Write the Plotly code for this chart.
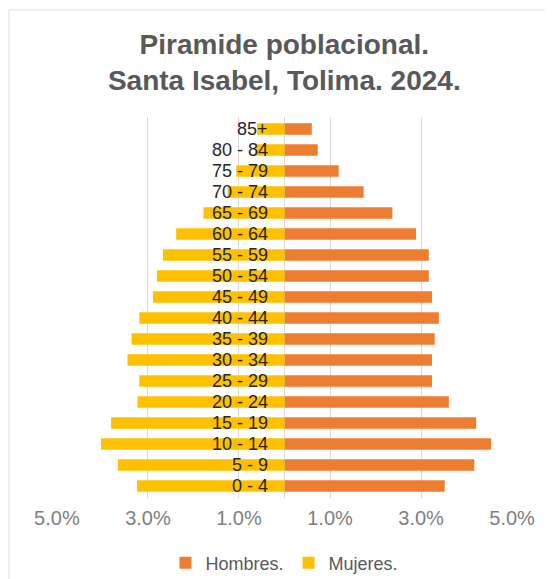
import plotly.graph_objects as go

age_groups = ["0 - 4", "5 - 9", "10 - 14", "15 - 19", "20 - 24", "25 - 29", "30 - 34",
              "35 - 39", "40 - 44", "45 - 49", "50 - 54", "55 - 59", "60 - 64",
              "65 - 69", "70 - 74", "75 - 79", "80 - 84", "85+"]
hombres = [3.52, 4.17, 4.54, 4.21, 3.61, 3.24, 3.24, 3.30, 3.39, 3.24, 3.17, 3.17,
           2.89, 2.37, 1.74, 1.19, 0.73, 0.60]
mujeres = [3.24, 3.66, 4.03, 3.81, 3.23, 3.19, 3.45, 3.36, 3.19, 2.89, 2.80, 2.67,
           2.38, 1.78, 1.25, 1.06, 0.62, 0.60]
tick_vals = [-5, -3, -1, 1, 3, 5]
tick_text = ["5.0%", "3.0%", "1.0%", "1.0%", "3.0%", "5.0%"]

FONT = "Liberation Sans, Arial, sans-serif"

fig = go.Figure()
fig.add_trace(go.Bar(
    y=age_groups, x=hombres, orientation="h", name="Hombres.",
    marker=dict(color="#ED7D31", line=dict(width=0)),
))
fig.add_trace(go.Bar(
    y=age_groups, x=[-v for v in mujeres], orientation="h", name="Mujeres.",
    marker=dict(color="#FFC000", line=dict(width=0)),
))

for g in age_groups:
    fig.add_annotation(x=0, y=g, xref="x", yref="y", text=g, showarrow=False,
                       xanchor="right", yanchor="middle", xshift=-15,
                       font=dict(family=FONT, size=18, color="#262626"))

fig.update_layout(
    width=545, height=571,
    margin=dict(l=48, r=40, t=109, b=81, autoexpand=False),
    paper_bgcolor="white", plot_bgcolor="white",
    barmode="relative", bargap=0.45,
    title=dict(text="<b>Piramide poblacional.<br>Santa Isabel, Tolima. 2024.</b>",
               x=0.507, xanchor="center", y=1 - 46 / 571, yanchor="top", yref="container",
               font=dict(family=FONT, size=28, color="#595959")),
    xaxis=dict(range=[-5.02, 5.02], tickvals=tick_vals, ticktext=tick_text,
               showgrid=True, gridcolor="#d9d9d9", gridwidth=1,
               zeroline=True, zerolinecolor="#d9d9d9", zerolinewidth=1,
               showline=False, ticks="", ticklabelstandoff=6, automargin=False,
               tickfont=dict(family=FONT, size=20, color="#808080")),
    yaxis=dict(showticklabels=False, showgrid=False, zeroline=False, showline=False,
               ticks="", automargin=False),
    legend=dict(orientation="h", x=0.5, xanchor="center", y=1 - 555 / 571,
                yanchor="middle", yref="container",
                traceorder="normal", itemwidth=30,
                font=dict(family=FONT, size=18, color="#595959")),
    showlegend=True,
    shapes=[dict(type="rect", xref="paper", yref="paper",
                 x0=-0.103, x1=1.081, y0=-0.3, y1=1.281,
                 line=dict(color="#e0e0e0", width=1), fillcolor="rgba(0,0,0,0)",
                 layer="below")],
)

fig.write_html("out.html")
